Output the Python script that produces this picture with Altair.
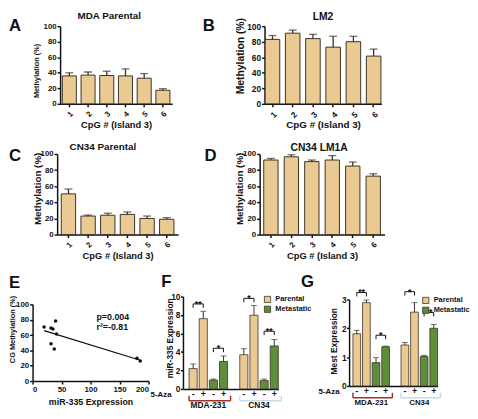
import altair as alt
import pandas as pd

# ---------------- data ----------------
cpg_sites = ["1", "2", "3", "4", "5", "6"]

mda_parental = [36, 37, 36.5, 36, 33, 17.5]
mda_parental_err = [4, 4, 5.5, 9, 6, 2]
lm2 = [83, 91, 84, 73, 80, 61.5]
lm2_err = [5, 4, 5.5, 14, 7, 9]
cn34_parental = [50.5, 23, 24, 25, 20, 19]
cn34_parental_err = [6, 1.2, 2.5, 3, 3, 2]
cn34_lm1a = [92.5, 96.5, 90.5, 92.5, 85, 72.5]
cn34_lm1a_err = [2, 2.5, 2, 5.5, 5, 3]

mir335_expression = [19.9, 31.8, 35.1, 39.7, 41.4, 31.8, 37.4, 180, 185.7]
cg_methylation = [70.4, 69.1, 67.8, 78.2, 61.3, 48.7, 41.7, 29.6, 26.1]
stat_lines = ["p=0.004", "r²=-0.81"]

bar_keys = ["m1", "m2", "m3", "m4", "c1", "c2", "c3", "c4"]
slot_keys = ["m1", "m2", "m3", "m4", "gap", "c1", "c2", "c3", "c4"]
bar_cell = ["MDA-231"] * 4 + ["CN34"] * 4
bar_group = ["Parental", "Parental", "Metastatic", "Metastatic"] * 2
bar_aza = ["-", "+", "-", "+"] * 2
mir335_vals = [2.2, 7.6, 0.95, 2.97, 3.7, 7.97, 0.9, 4.65]
mir335_err = [0.5, 0.8, 0.12, 0.6, 0.65, 1.05, 0.17, 0.7]
mest_vals = [1.81, 2.89, 0.81, 1.36, 1.42, 2.56, 1.02, 2.0]
mest_err = [0.12, 0.09, 0.17, 0.02, 0.09, 0.33, 0.04, 0.13]

sig_left = ["m1", "m3", "c1", "c3"]
sig_right = ["m2", "m4", "c2", "c4"]
sig_marks = ["**", "*", "*", "**"]
mir335_sig_y = [9.2, 4.4, 9.8, 6.25]
mest_sig_y = [3.24, 1.76, 3.27, 2.55]

cell_lines = ["MDA-231", "CN34"]
cell_first = ["m1", "c1"]
cell_mid = ["m2", "c2"]
cell_last = ["m4", "c4"]
groups = ["Parental", "Metastatic"]

# ---------------- style ----------------
FONT = "Liberation Sans"
INK = "#111111"
EDGE = "#3a3326"
TAN = "#EACA92"
GREEN = "#5F8D3B"
RED = "#A3322A"
BLUE = "#C4DDE5"


def axis(**kw):
    base = dict(grid=False, domainColor=INK, domainWidth=1.5, tickColor=INK,
                tickWidth=1.5, tickSize=3, labelFont=FONT, labelFontWeight="bold",
                labelColor=INK, labelPadding=1, titleFont=FONT,
                titleFontWeight="bold", titleColor=INK)
    base.update(kw)
    return alt.Axis(**base)


def label(text, dx, dy, size, align="left"):
    return alt.Chart(pd.DataFrame({"t": [text]})).mark_text(
        font=FONT, fontWeight="bold", fontSize=size, align=align,
        baseline="alphabetic", color=INK
    ).encode(text="t:N", x=alt.value(dx), y=alt.value(dy))


def letter(ch, dx, dy):
    return label(ch, dx, dy, 17)


def cpg_panel(vals, errs, title, w, h, pin, pout, title_fs, title_off, title_dx,
              ytf, ytx, yty, xtf, tfs, ch, lx, ly):
    df = pd.DataFrame({"site": cpg_sites, "v": vals, "e": errs})
    base = alt.Chart(df).transform_calculate(top="datum.v + datum.e")
    xs = alt.Scale(domain=cpg_sites, paddingInner=pin, paddingOuter=pout)
    ys = alt.Scale(domain=[0, 100], nice=False)
    xa = axis(title="CpG # (Island 3)", labelAngle=315, labelAlign="right",
              labelBaseline="top", labelFontSize=tfs, labelPadding=3,
              titleFontSize=xtf, titleX=w / 2, titleY=24, titleBaseline="alphabetic")
    ya = axis(title="Methylation (%)", values=[0, 20, 40, 60, 80, 100],
              labelFontSize=tfs, titleFontSize=ytf, titleX=ytx, titleY=yty,
              titleAngle=270, titleBaseline="alphabetic")
    X = alt.X("site:N", scale=xs, axis=xa)
    bars = base.mark_bar(fill=TAN, stroke=EDGE, strokeWidth=1).encode(
        x=X, y=alt.Y("v:Q", scale=ys, axis=ya))
    err = base.mark_rule(color=EDGE, strokeWidth=1.3).encode(
        x=X, y=alt.Y("v:Q", scale=ys, axis=ya), y2="top:Q")
    cap = base.mark_tick(color=EDGE, thickness=1.3, size=8, orient="horizontal").encode(
        x=X, y=alt.Y("top:Q", scale=ys, axis=ya))
    head = label(title, w / 2 + title_dx, -title_off, title_fs, align="center")
    return alt.layer(bars, err, cap, head, letter(ch, lx, ly)).properties(
        width=w, height=h)


def scatter_panel(w, h, ly):
    df = pd.DataFrame({"mir": mir335_expression, "cg": cg_methylation})
    xs = alt.Scale(domain=[0, 200], nice=False)
    ys = alt.Scale(domain=[0, 100], nice=False)
    xa = axis(title="miR-335 Expression", values=[0, 50, 100, 150, 200],
              labelFontSize=8, labelPadding=2, titleFontSize=9, titleX=w / 2,
              titleY=24, titleBaseline="alphabetic")
    ya = axis(title="CG Methylation (%)", values=[0, 20, 40, 60, 80, 100],
              labelFontSize=8, titleFontSize=7.5, titleX=-18, titleY=25,
              titleAngle=270, titleBaseline="alphabetic")
    X = alt.X("mir:Q", scale=xs, axis=xa)
    Y = alt.Y("cg:Q", scale=ys, axis=ya)
    pts = alt.Chart(df).mark_circle(size=13, color=INK, opacity=1).encode(x=X, y=Y)
    fit = alt.Chart(df).transform_regression("mir", "cg").mark_line(
        color=INK, strokeWidth=1.3).encode(x=X, y=Y)
    stats = alt.Chart(pd.DataFrame({"t": ["\n".join(stat_lines)]})).mark_text(
        font=FONT, fontWeight="bold", fontSize=9, align="left", baseline="alphabetic",
        lineBreak="\n", lineHeight=10, color=INK
    ).encode(text="t:N", x=alt.value(65), y=alt.value(16))
    return alt.layer(fit, pts, stats, letter("E", -24, ly)).properties(width=w, height=h)


def expr_panel(vals, errs, sig_y, ytitle, yvals, ydom, w, h, pout, ytf, ytx, yty,
               tick_len, ch, lx, ly, legx, legy, azax, cell_fs):
    df = pd.DataFrame({"key": bar_keys, "cell": bar_cell, "grp": bar_group,
                       "aza": bar_aza, "v": vals, "e": errs})
    base = alt.Chart(df).transform_calculate(top="datum.v + datum.e")
    xs = alt.Scale(domain=slot_keys, paddingInner=0.2, paddingOuter=pout, align=1)
    ys = alt.Scale(domain=ydom, nice=False)
    xa = axis(title=None, labels=False, ticks=False)
    ya = axis(title=ytitle, values=yvals, labelFontSize=8.5, tickSize=2.5,
              labelPadding=0.5, titleFontSize=ytf, titleX=ytx, titleY=yty,
              titleAngle=270, titleBaseline="alphabetic")

    def X(f, **k):
        return alt.X(f, type="nominal", scale=xs, axis=xa, **k)

    def Y(f):
        return alt.Y(f, type="quantitative", scale=ys, axis=ya)

    bars = base.mark_bar(stroke=EDGE, strokeWidth=0.8).encode(
        x=X("key"), y=Y("v"),
        fill=alt.Fill("grp:N", scale=alt.Scale(domain=groups, range=[TAN, GREEN]),
                      legend=alt.Legend(
                          title=None, orient="none", legendX=legx, legendY=legy,
                          symbolType="square", symbolSize=40, symbolStrokeColor=EDGE,
                          symbolStrokeWidth=0.8, labelFont=FONT, labelFontWeight="bold",
                          labelFontSize=7.5, labelColor=INK, labelOffset=4,
                          rowPadding=0, padding=0)))
    err = base.mark_rule(color=EDGE, strokeWidth=1).encode(
        x=X("key"), y=Y("v"), y2="top:Q")
    cap = base.mark_tick(color=EDGE, thickness=1, size=6, orient="horizontal").encode(
        x=X("key"), y=Y("top"))
    aza = base.mark_text(font=FONT, fontWeight="bold", fontSize=9, color=INK,
                         baseline="middle").encode(
        x=X("key"), y=alt.value(h + 5.5), text="aza:N")

    sig = alt.Chart(pd.DataFrame({"l": sig_left, "r": sig_right, "s": sig_y,
                                  "t": sig_marks}))
    hline = sig.mark_rule(color=INK, strokeWidth=1).encode(
        x=X("l"), x2="r:N", y=Y("s"))
    ltick = sig.mark_rule(color=INK, strokeWidth=1, y2Offset=tick_len).encode(
        x=X("l"), y=Y("s"), y2="s:Q")
    rtick = sig.mark_rule(color=INK, strokeWidth=1, y2Offset=tick_len).encode(
        x=X("r"), y=Y("s"), y2="s:Q")
    stars = sig.mark_text(font=FONT, fontWeight="bold", fontSize=9, color=INK,
                          baseline="alphabetic", dy=3, dx=-1).encode(
        x=X("r", bandPosition=0), y=Y("s"), text="t:N")

    cells = alt.Chart(pd.DataFrame({"cell": cell_lines, "first": cell_first,
                                    "mid": cell_mid, "last": cell_last}))
    stroke = alt.Stroke("cell:N", scale=alt.Scale(domain=cell_lines, range=[RED, BLUE]),
                        legend=None)
    bh = cells.mark_rule(strokeWidth=1.5, x2Offset=3).encode(
        x=X("first", bandPosition=0), x2=alt.X2("last:N", bandPosition=1),
        y=alt.value(h + 12), stroke=stroke)
    bl = cells.mark_rule(strokeWidth=1.5).encode(
        x=X("first", bandPosition=0), y=alt.value(h + 7), y2=alt.value(h + 12),
        stroke=stroke)
    br = cells.mark_rule(strokeWidth=1.5, xOffset=3).encode(
        x=X("last", bandPosition=1), y=alt.value(h + 7), y2=alt.value(h + 12),
        stroke=stroke)
    clab = cells.mark_text(font=FONT, fontWeight="bold", fontSize=cell_fs, color=INK,
                           baseline="alphabetic", dx=1).encode(
        x=X("mid", bandPosition=1), y=alt.value(h + 19.5), text="cell:N")
    azalab = label("5-Aza", azax, h + 8, 8)
    return alt.layer(bars, err, cap, aza, hline, ltick, rtick, stars,
                     bh, bl, br, clab, azalab, letter(ch, lx, ly)).properties(
        width=w, height=h)


def spacer(w, h=1):
    return alt.Chart(pd.DataFrame({"s": [0]})).mark_point(opacity=0).encode(
        x=alt.X("s:Q", axis=None), y=alt.Y("s:Q", axis=None)).properties(width=w, height=h)


A = cpg_panel(mda_parental, mda_parental_err, "MDA Parental", 114, 79, 0.25, 0.12,
              10, 7, -7, 7.5, -22, 45, 9.5, 8, "A", -52, 5)
B = cpg_panel(lm2, lm2_err, "LM2", 119, 79, 0.28, 0.03,
              10.5, 6, 0, 10.5, -21, 30, 10, 8.5, "B", -63, 5)
C = cpg_panel(cn34_parental, cn34_parental_err, "CN34 Parental", 123, 82, 0.27, 0.21,
              10, 4, -15, 10, -17, 35, 9.5, 8, "C", -49, 7)
D = cpg_panel(cn34_lm1a, cn34_lm1a_err, "CN34 LM1A", 127, 82, 0.3, 0.2,
              10.5, 3, -3, 10, -17, 35, 9.5, 8, "D", -56, 7)
E = scatter_panel(118, 78, -17)
F = expr_panel(mir335_vals, mir335_err, mir335_sig_y, "miR-335 Expression",
               [0, 2, 4, 6, 8, 10], [0, 10], 97, 94, 0.3, 8.5, -11, 42,
               4, "F", -22, -9.5, 82, -1, -33, 8.5)
G = expr_panel(mest_vals, mest_err, mest_sig_y, "Mest Expression",
               [0, 1, 2, 3], [0, 3], 90, 88, 0.2, 8.5, -13, 42,
               4, "G", -49, -12.5, 74, -3, -31, 8)

row1 = alt.hconcat(spacer(28), A, spacer(94), B, spacing=0, bounds="flush")
row2 = alt.hconcat(spacer(25), C, spacer(83), D, spacing=0, bounds="flush")
row3 = alt.hconcat(E, spacer(35), F, spacer(72), G, spacing=0, bounds="flush",
                   center=True).resolve_scale(
    fill="independent", stroke="independent").resolve_legend(fill="independent")

chart = alt.vconcat(row1, row2, row3, spacing=13).resolve_scale(
    fill="independent", stroke="independent"
).resolve_legend(fill="independent").properties(
    padding=0, background="white"
).configure_view(stroke=None)

chart.save("out.html", embed_options={"renderer": "svg", "actions": False})
